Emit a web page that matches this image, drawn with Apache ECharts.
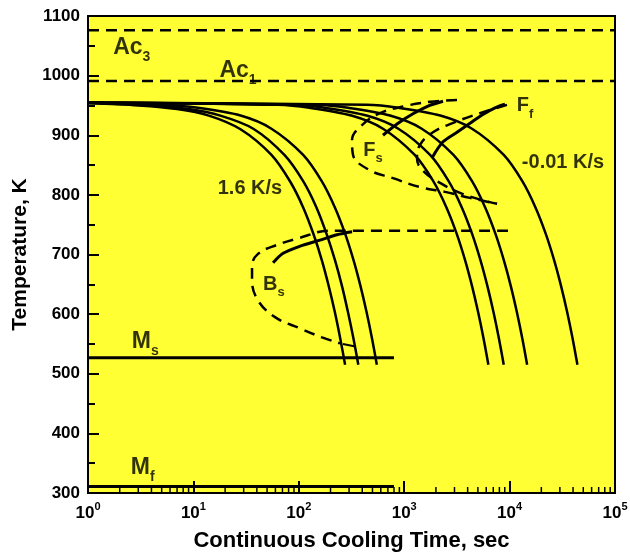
<!DOCTYPE html>
<html><head><meta charset="utf-8">
<script src="https://cdn.jsdelivr.net/npm/echarts@6/dist/echarts.min.js"></script>
<style>html,body{margin:0;padding:0;background:#fff}#c{width:630px;height:556px}</style>
</head><body><div id="c"></div>
<script>
const FONT = '"Liberation Sans", Arial, Helvetica, sans-serif';

// Cooling curves: [time (s), temperature (K)]
const cool16  = [[1,954],[3,950],[7,944],[14,933],[28,910],[55,867],[83,822],[110,779],[138,734],[165,691],[193,646],[220,603],[248,558],[275,515]];
const cool12  = [[1,954],[4,950],[9,944],[18,933],[37,911],[73,867],[110,823],[147,779],[183,735],[220,691],[257,647],[293,603],[330,559],[367,515]];
const cool08  = [[1,954],[5,951],[11,946],[28,933],[55,911],[110,867],[165,823],[220,779],[275,735],[330,691],[385,647],[440,603],[495,559],[550,515]];
const cool007 = [[1,955],[63,951],[126,946],[315,933],[629,911],[1258,867],[1887,823],[2516,779],[3145,735],[3774,691],[4403,647],[5032,603],[5661,559],[6290,515]];
const cool005 = [[1,955],[88,951],[176,946],[440,933],[880,911],[1760,867],[2640,823],[3520,779],[4400,735],[5280,691],[6160,647],[7040,603],[7920,559],[8800,515]];
const cool003 = [[1,955],[147,951],[293,946],[733,933],[1467,911],[2933,867],[4400,823],[5867,779],[7333,735],[8800,691],[10270,647],[11730,603],[13200,559],[14670,515]];
const cool001 = [[1,955],[440,951],[880,946],[2200,933],[4400,911],[8800,867],[13200,823],[17600,779],[22000,735],[26400,691],[30800,647],[35200,603],[39600,559],[44000,515]];

// Critical temperature lines
const ac3Line = [[1,1076],[100000,1076]];
const ac1Line = [[1,991],[100000,991]];
const msLine  = [[1,527],[800,527]];
const mfLine  = [[1,311],[800,311]];

// Transformation boundaries
const fsDash = [[3170,959],[1758,956],[1018,949],[589,937],[398,917],[320,892],[327,867],[464,842],[783,828],[1413,813],[2438,805],[4207,795],[7590,785]];
const ffDash = [[9450,951],[5240,937],[3033,922],[1875,905],[1413,884],[1322,862],[1475,842],[2187,820],[3776,800],[7590,785]];
const bsDash = [[9660,740],[198,740],[98,727],[62,716],[41,701],[36,680],[36,657],[41,623],[59.5,595],[103,576],[166,561],[246,551]];
const fsSolid = [[629,900],[855,919],[1211,936],[1683,949],[2335,957]];
const ffSolid = [[1836,862],[2335,889],[3170,905],[4207,920],[5470,934],[7270,946],[9040,952]];
const bsSolid = [[57,686],[71,702],[103,714],[159,724],[230,733],[320,738]];
const bfSolid = [[262,550],[335,546]];

// Axis ticks
const xMinorTicks = [2,3,4,5,6,7,8,9,20,30,40,50,60,70,80,90,200,300,400,500,600,700,800,900,
  2000,3000,4000,5000,6000,7000,8000,9000,20000,30000,40000,50000,60000,70000,80000,90000];

// Annotations
const annotText = ['{B|Ac}{bs|3}','{B|Ac}{bs|1}','{b|F}{s|s}','{b|F}{s|f}','{b|1.6 K/s}','{b|-0.01 K/s}','{b|B}{s|s}','{B|M}{bs|s}','{B|M}{bs|f}'];
const annotAt   = [[2.6,1043],[26.5,1004],[506,871],[14000,945],[34.4,807],[32100,850],[58,646],[3.5,549],[3.3,338]];

const chart = echarts.init(document.getElementById('c'), null, {renderer:'canvas'});

function line(data, opts) {
  return Object.assign({
    type:'line', data:data, symbol:'none', silent:true, animation:false,
    lineStyle:{color:'#000', width:2.5}, z:3
  }, opts || {});
}
const dashed = {color:'#000', width:2.5, type:[11,7]};

const txt = {fontFamily:FONT, fontWeight:'bold', color:'#000'};
const rich = {
  b:  Object.assign({fontSize:20, verticalAlign:'bottom', padding:[0,0,5,0]}, txt),
  s:  Object.assign({fontSize:13, verticalAlign:'bottom'}, txt),
  B:  Object.assign({fontSize:23, verticalAlign:'bottom', padding:[0,0,5,0]}, txt),
  bs: Object.assign({fontSize:14, verticalAlign:'bottom'}, txt)
};

const option = {
  animation:false,
  backgroundColor:'#ffffff',
  grid:{left:88, right:15, top:16, bottom:63, containLabel:false, outerBoundsMode:'none',
        show:true, backgroundColor:'#ffff33', borderColor:'#000', borderWidth:2},
  xAxis:{
    type:'log', logBase:10, min:1, max:100000,
    name:'Continuous Cooling Time, sec', nameLocation:'middle', nameGap:37,
    nameTextStyle:{fontFamily:FONT, fontWeight:'bold', fontSize:22, color:'#000'},
    axisLine:{show:true, lineStyle:{color:'#000', width:2}},
    axisTick:{show:true, inside:true, length:12, lineStyle:{color:'#000', width:2}},
    minorTick:{show:false},
    splitLine:{show:false},
    axisLabel:{
      margin:8, color:'#000',
      formatter:function(v){ return '{m|10}{p|' + Math.round(Math.log10(v)) + '}'; },
      rich:{
        m:{fontSize:17, fontWeight:'bold', verticalAlign:'bottom', fontFamily:FONT, color:'#000'},
        p:{fontSize:11, fontWeight:'bold', verticalAlign:'bottom', padding:[0,0,10,0], fontFamily:FONT, color:'#000'}
      }
    }
  },
  yAxis:{
    type:'value', min:300, max:1100, interval:100,
    name:'Temperature, K', nameLocation:'middle', nameGap:57, nameRotate:90,
    nameTextStyle:{fontFamily:FONT, fontWeight:'bold', fontSize:21, color:'#000'},
    axisLine:{show:true, lineStyle:{color:'#000', width:2}},
    axisTick:{show:true, inside:true, length:11, lineStyle:{color:'#000', width:2}},
    minorTick:{show:true, splitNumber:2, length:7, lineStyle:{color:'#000', width:2}},
    splitLine:{show:false},
    axisLabel:{
      margin:8, color:'#000', fontFamily:FONT, fontWeight:'bold', fontSize:17,
      formatter:function(v){ return String(v); }
    }
  },
  series:[
    line(cool16, {smooth:0.3}),
    line(cool12, {smooth:0.3}),
    line(cool08, {smooth:0.3}),
    line(cool007, {smooth:0.3}),
    line(cool005, {smooth:0.3}),
    line(cool003, {smooth:0.3}),
    line(cool001, {smooth:0.3}),
    line(ac3Line, {lineStyle:dashed}),
    line(ac1Line, {lineStyle:dashed}),
    line(msLine,  {lineStyle:{color:'#000', width:3}}),
    line(mfLine,  {lineStyle:{color:'#000', width:3}}),
    line(fsDash,  {smooth:0.4, lineStyle:dashed}),
    line(ffDash,  {smooth:0.4, lineStyle:dashed}),
    line(bsDash,  {smooth:0.4, lineStyle:dashed}),
    line(fsSolid, {smooth:0.3, lineStyle:{color:'#000', width:3}}),
    line(ffSolid, {smooth:0.3, lineStyle:{color:'#000', width:3}}),
    line(bsSolid, {smooth:0.3, lineStyle:{color:'#000', width:3}}),
    line(bfSolid, {lineStyle:{color:'#000', width:2}}),
    {
      type:'custom', silent:true, animation:false, z:4, clip:false,
      data:xMinorTicks.map(function(t){ return [t, 300]; }),
      encode:{x:0, y:1},
      renderItem:function(params, api){
        const p = api.coord([api.value(0), api.value(1)]);
        return {type:'line', shape:{x1:p[0], y1:p[1], x2:p[0], y2:p[1]-6}, style:{stroke:'#000', lineWidth:1.5}};
      }
    },
    {
      type:'scatter', silent:true, animation:false, z:5,
      symbolSize:1, itemStyle:{color:'rgba(0,0,0,0)'},
      data:annotAt.map(function(p, i){ return {value:p, name:annotText[i]}; }),
      label:{show:true, position:'inside', color:'#000', textBorderWidth:0,
             formatter:function(p){ return p.name; }, rich:rich}
    }
  ]
};
chart.setOption(option);
</script>
</body></html>
